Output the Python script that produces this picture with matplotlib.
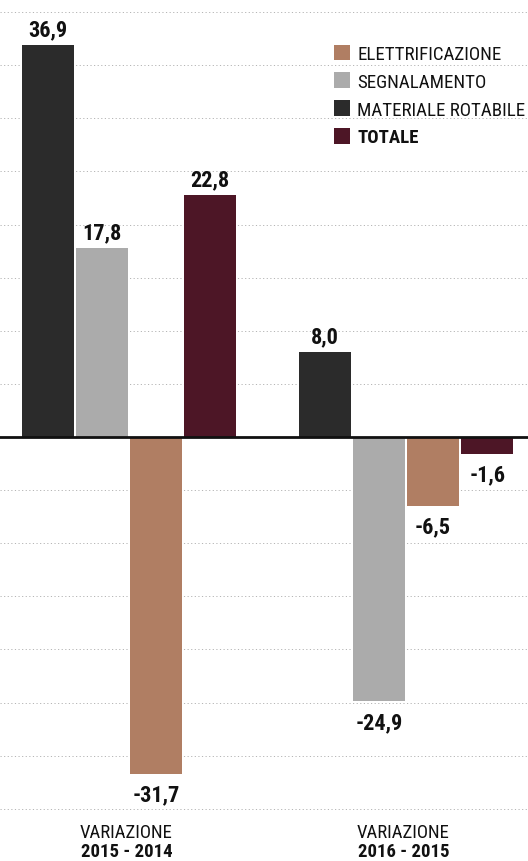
import numpy as np
import matplotlib
matplotlib.use("Agg")
import matplotlib.pyplot as plt
from matplotlib import font_manager
from matplotlib.patches import Patch

groups = ["VARIAZIONE\n2015 - 2014", "VARIAZIONE\n2016 - 2015"]
series = ["MATERIALE ROTABILE", "SEGNALAMENTO", "ELETTRIFICAZIONE", "TOTALE"]
materiale = [36.9, 8.0]
segnalamento = [17.8, -24.9]
elettrificazione = [-31.7, -6.5]
totale = [22.8, -1.6]

colors = ["#2b2b2b", "#ababab", "#b07e63", "#4d1626"]
legend_order = [2, 1, 0, 3]


def pick_font():
    names = {f.name for f in font_manager.fontManager.ttflist}
    for name in ["Roboto Condensed", "Liberation Sans Narrow", "DejaVu Sans"]:
        if name in names:
            return name
    return "DejaVu Sans"


FONT = pick_font()
STRETCH = "condensed" if FONT == "DejaVu Sans" else "normal"
plt.rcParams["font.family"] = [FONT, "DejaVu Sans"]


def main():
    fig = plt.figure(figsize=(5.28, 8.62), dpi=100)
    ax = fig.add_axes([0, 0, 1, 1])

    data = [materiale, segnalamento, elettrificazione, totale]
    x = np.arange(len(groups))
    step = 0.195
    width = 0.188

    # dotted grid every 5 points
    for v in range(-35, 45, 5):
        if v == 0:
            continue
        ax.axhline(v, color="#b4b4b4", lw=0.7, ls=(0, (1.2, 2.5)), zorder=0)

    for i, vals in enumerate(data):
        xs = x + (i - 1.5) * step
        ax.bar(xs, vals, width=width, color=colors[i], zorder=2)
        for xi, v in zip(xs, vals):
            lab = f"{v:.1f}".replace(".", ",")
            if v >= 0:
                ax.text(xi, v + 0.45, lab, ha="center", va="bottom",
                        fontsize=16, fontweight="bold", stretch=STRETCH,
                        color="#111111", zorder=3)
            else:
                ax.text(xi, v - 0.9, lab, ha="center", va="top",
                        fontsize=16, fontweight="bold", stretch=STRETCH,
                        color="#111111", zorder=3)

    ax.axhline(0, color="#111111", lw=2, zorder=4)

    for xi, g in zip(x, groups):
        top, bottom = g.split("\n")
        ax.text(xi - 0.01, -37.2, top, ha="center", va="center",
                fontsize=13.5, stretch=STRETCH, color="#111111")
        ax.text(xi - 0.01, -39.0, bottom, ha="center", va="center",
                fontsize=13.5, fontweight="bold", stretch=STRETCH,
                color="#111111")

    handles = [Patch(facecolor=colors[i]) for i in legend_order]
    labels = [series[i] for i in legend_order]
    leg = ax.legend(handles, labels, loc="upper left",
                    bbox_to_anchor=(0.632, 0.947), frameon=False,
                    handlelength=0.88, handleheight=0.9, handletextpad=0.36,
                    labelspacing=0.5, borderaxespad=0, borderpad=0,
                    prop={"size": 13.6, "stretch": STRETCH})
    for t in leg.get_texts():
        t.set_color("#111111")
    leg.get_texts()[-1].set_fontweight("bold")

    ax.set_xlim(-0.466, 1.44)
    ax.set_ylim(-39.92, 41.24)
    ax.axis("off")

    fig.savefig("out.png", dpi=100, facecolor="white")


if __name__ == "__main__":
    main()
